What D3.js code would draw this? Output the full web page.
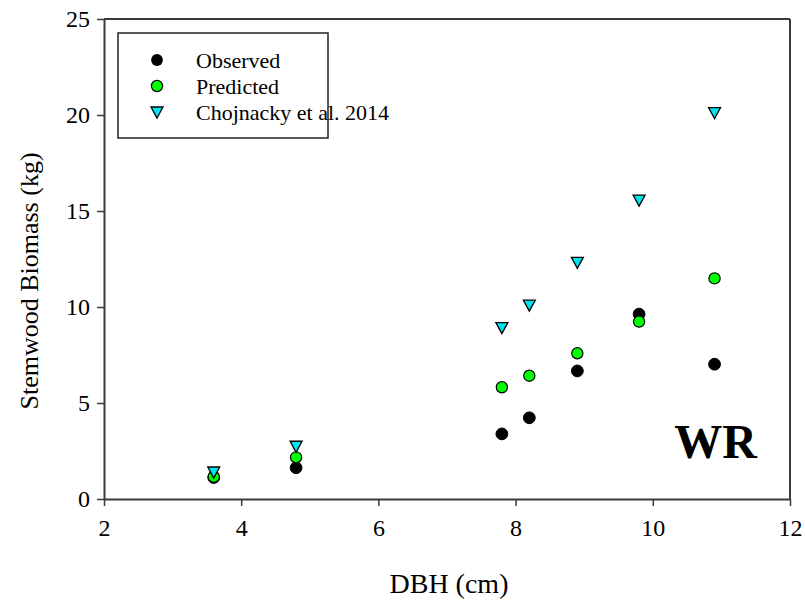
<!DOCTYPE html>
<html>
<head>
<meta charset="utf-8">
<script src="https://cdn.jsdelivr.net/npm/d3@7"></script>
<style>
  html, body { margin: 0; padding: 0; background: #fff; }
  svg { display: block; font-family: "Liberation Serif", "Times New Roman", serif; }
</style>
</head>
<body>
<svg id="chart" width="805" height="600"></svg>
<script>
// Stemwood biomass by diameter at breast height
const dbh       = [3.6, 4.8, 7.8, 8.2, 8.9, 9.8, 10.9];
const observed  = [1.12, 1.63, 3.39, 4.23, 6.67, 9.63, 7.02];
const predicted = [1.16, 2.17, 5.82, 6.42, 7.59, 9.24, 11.49];
const chojnacky = [1.38, 2.72, 8.90, 10.07, 12.30, 15.54, 20.10];

const xTicks = [2, 4, 6, 8, 10, 12];
const yTicks = [0, 5, 10, 15, 20, 25];
const seriesNames = ["Observed", "Predicted", "Chojnacky et al. 2014"];

const svg = d3.select("#chart");
const plotL = 104, plotR = 790, plotT = 19, plotB = 499;
const axisColor = "#3a3a3a";

const x = d3.scaleLinear().domain([2, 12]).range([plotL, plotR]);
const y = d3.scaleLinear().domain([0, 25]).range([plotB, plotT]);

// frame (top and right sides)
svg.append("line").attr("x1", plotL).attr("x2", plotR).attr("y1", plotT).attr("y2", plotT)
  .attr("stroke", axisColor).attr("stroke-width", 2);
svg.append("line").attr("x1", plotR).attr("x2", plotR).attr("y1", plotT).attr("y2", plotB)
  .attr("stroke", axisColor).attr("stroke-width", 2);

// bottom axis
const xAxis = svg.append("g").attr("transform", `translate(0,${plotB})`)
  .call(d3.axisBottom(x).tickValues(xTicks).tickSize(7).tickPadding(13).tickSizeOuter(0));
// left axis
const yAxis = svg.append("g").attr("transform", `translate(${plotL},0)`)
  .call(d3.axisLeft(y).tickValues(yTicks).tickSize(7).tickPadding(7).tickSizeOuter(0));

[xAxis, yAxis].forEach(g => {
  g.select(".domain").attr("stroke", axisColor).attr("stroke-width", 2);
  g.selectAll(".tick line").attr("stroke", axisColor).attr("stroke-width", 1.5);
  g.selectAll(".tick text").attr("fill", "#000")
    .style("font-family", "'Liberation Serif', serif").style("font-size", "24px");
});

// axis titles
svg.append("text").attr("x", 449).attr("y", 593)
  .attr("text-anchor", "middle").style("font-size", "28px").text("DBH (cm)");
svg.append("text").attr("transform", `translate(38,281) rotate(-90)`)
  .attr("text-anchor", "middle").style("font-size", "26px").text("Stemwood Biomass (kg)");

// downward triangle marker path
const tri = (cx, cy, s) => `M${cx - s},${cy - s * 0.92}L${cx + s},${cy - s * 0.92}L${cx},${cy + s * 0.92}Z`;

// Observed
svg.append("g").selectAll("circle").data(dbh.map((d, i) => [d, observed[i]])).join("circle")
  .attr("cx", d => x(d[0])).attr("cy", d => y(d[1])).attr("r", 5.9)
  .attr("fill", "#000").attr("stroke", "#000").attr("stroke-width", 1);
// Predicted
svg.append("g").selectAll("circle").data(dbh.map((d, i) => [d, predicted[i]])).join("circle")
  .attr("cx", d => x(d[0])).attr("cy", d => y(d[1])).attr("r", 5.6)
  .attr("fill", "#00ff00").attr("stroke", "#000").attr("stroke-width", 1.2);
// Chojnacky et al. 2014
svg.append("g").selectAll("path").data(dbh.map((d, i) => [d, chojnacky[i]])).join("path")
  .attr("d", d => tri(x(d[0]), y(d[1]), 6))
  .attr("fill", "#00e5ee").attr("stroke", "#000").attr("stroke-width", 1.3);

// legend
const lg = svg.append("g");
lg.append("rect").attr("x", 118).attr("y", 33).attr("width", 210).attr("height", 105)
  .attr("fill", "#fff").attr("stroke", "#222").attr("stroke-width", 1.5);
const rowsY = [60, 86, 112.5];
const lx = 157;
lg.append("circle").attr("cx", lx).attr("cy", rowsY[0]).attr("r", 5.9).attr("fill", "#000");
lg.append("circle").attr("cx", lx).attr("cy", rowsY[1]).attr("r", 5.6)
  .attr("fill", "#00ff00").attr("stroke", "#000").attr("stroke-width", 1.2);
lg.append("path").attr("d", tri(lx, rowsY[2], 6))
  .attr("fill", "#00e5ee").attr("stroke", "#000").attr("stroke-width", 1.3);
lg.selectAll("text.lab").data(seriesNames).join("text").attr("class", "lab")
  .attr("x", 196).attr("y", (d, i) => rowsY[i]).attr("dy", "0.35em")
  .style("font-size", "22px").text(d => d);

// site label
svg.append("text").attr("x", 757).attr("y", 458).attr("text-anchor", "end")
  .style("font-size", "48px").style("font-weight", "bold").text("WR");
</script>
</body>
</html>
